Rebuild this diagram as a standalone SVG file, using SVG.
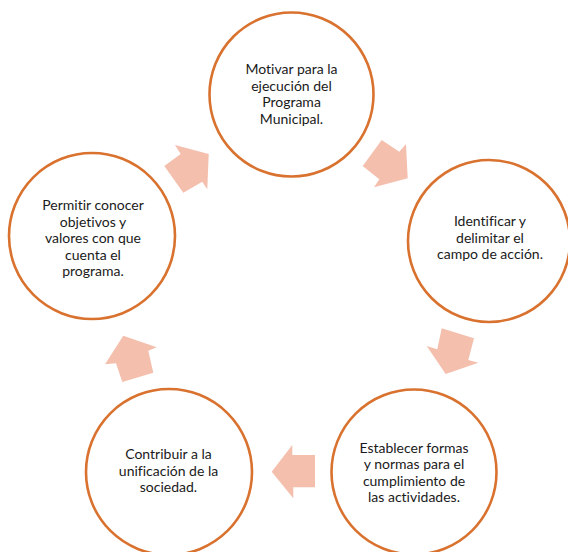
<svg xmlns="http://www.w3.org/2000/svg" width="568" height="552" viewBox="0 0 568 552">
<style>
.c{fill:#fff;stroke:#D9722F;stroke-width:2.6}
.a{fill:#F4BFAD}
text{font-family:Lato,"Open Sans","Liberation Sans",sans-serif;font-size:14px;fill:#1a1a1a;text-anchor:middle;font-variant-ligatures:none}
</style>
<rect width="568" height="552" fill="#fff"/>
<g id="connectors">
<polygon class="a" points="175,145 208.7,154 207.3,189.3 202.3,181.7 183.3,192.7 164.3,166 180.7,154"/>
<polygon class="a" points="381.7,140 399.3,151.7 406,144 407.7,178.3 374,187.3 379.3,179.3 362.7,166"/>
<polygon class="a" points="441.7,328.3 474,338.3 468.3,360 478.3,362.7 445.7,374 426.7,346 437.3,349.3"/>
<polygon class="a" points="271.7,471.7 292.3,445 292.3,455 315,455 315,487.3 293.3,487.3 293.3,498.3"/>
<polygon class="a" points="123.3,335.7 156.7,347.3 148.3,350.7 153.3,372.7 122.3,382 116,363.3 105,364.3"/>
</g>
<g id="node-motivar">
<circle class="c" cx="291.5" cy="94.5" r="82"/>
<text x="291.5" y="74">Motivar para la</text>
<text x="291.5" y="91">ejecución del</text>
<text x="291.5" y="107">Programa</text>
<text x="291.5" y="124">Municipal.</text>
</g>
<g id="node-identificar">
<circle class="c" cx="489" cy="241" r="81"/>
<text x="490" y="226">Identificar y</text>
<text x="490" y="243">delimitar el</text>
<text x="490" y="259">campo de acción.</text>
</g>
<g id="node-establecer">
<circle class="c" cx="414" cy="472" r="82.5"/>
<text x="414" y="452.5">Establecer formas</text>
<text x="414" y="469">y normas para el</text>
<text x="414" y="486">cumplimiento de</text>
<text x="414" y="502">las actividades.</text>
</g>
<g id="node-contribuir">
<circle class="c" cx="169" cy="472" r="83"/>
<text x="168.5" y="459">Contribuir a la</text>
<text x="168.5" y="476">unificación de la</text>
<text x="168.5" y="492">sociedad.</text>
</g>
<g id="node-permitir">
<circle class="c" cx="92" cy="236" r="83"/>
<text x="93" y="210">Permitir conocer</text>
<text x="93" y="226.5">objetivos y</text>
<text x="93" y="243">valores con que</text>
<text x="93" y="259.5">cuenta el</text>
<text x="93" y="276">programa.</text>
</g>
</svg>
